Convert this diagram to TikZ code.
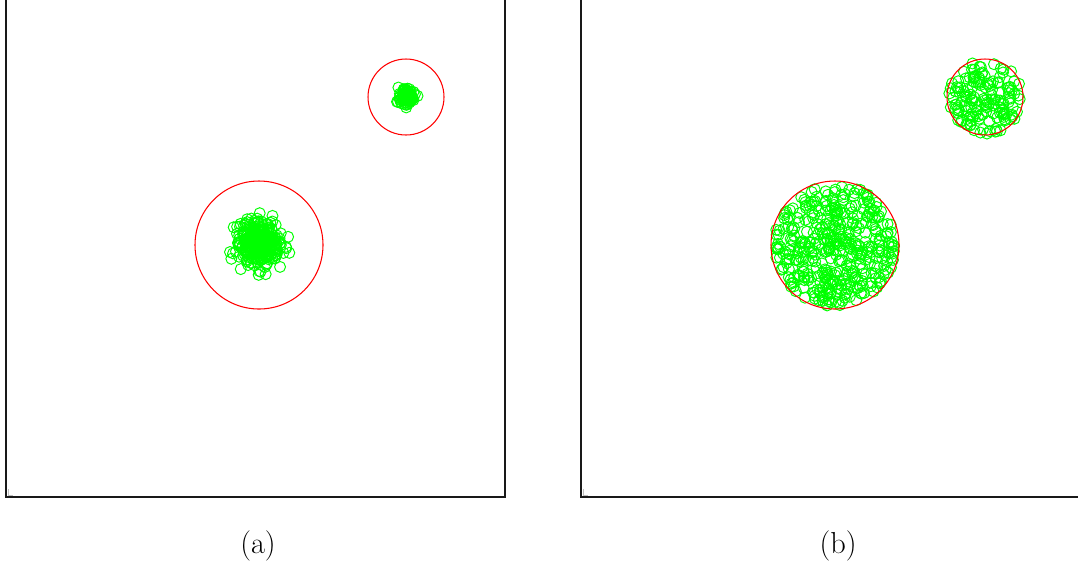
\documentclass[tikz,border=0pt]{standalone}
\definecolor{clusterGreen}{RGB}{0,255,0}
\definecolor{boundRed}{RGB}{255,0,0}
\tikzset{
  pt/.style={draw=clusterGreen, line width=0.55pt},
  bound/.style={draw=boundRed, line width=0.6pt},
  frame/.style={draw=black!90, line width=0.65pt},
}
\begin{document}
\begin{tikzpicture}[x=0.02cm,y=-0.02cm]
\useasboundingbox (0,0) rectangle (1078,566);

% Рамки
\draw[frame] (6,0) -- (6,497) -- (505,497) -- (505,0);
\draw[frame] (581,0) -- (581,497) -- (1078,497);
\draw[gray!50, line width=0.4pt] (8,489) -- (8,495) -- (13,495);
\draw[gray!50, line width=0.4pt] (583,489) -- (583,495) -- (588,495);

\pgfmathsetseed{685}
% Панель (a): плотные кластеры
\foreach \i in {1,...,320}{
    \pgfmathsetmacro\r{10.5*sqrt(-2*ln(max(rnd,0.01)))}
    \pgfmathsetmacro\a{360*rnd}
    \draw[pt] ({259+\r*cos(\a)},{243+\r*sin(\a)}) circle (5.5);
}
\foreach \i in {1,...,100}{
    \pgfmathsetmacro\r{4*sqrt(-2*ln(max(rnd,0.01)))}
    \pgfmathsetmacro\a{360*rnd}
    \draw[pt] ({406+\r*cos(\a)},{97+\r*sin(\a)}) circle (5.5);
}

% Границы (a)
\draw[bound] (259,245) circle (64);
\draw[bound] (406,97) circle (38);

\pgfmathsetseed{618}
% Панель (b): точки по всему кругу
\foreach \i in {1,...,420}{
    \pgfmathsetmacro\r{61*sqrt(rnd)}
    \pgfmathsetmacro\a{360*rnd}
    \draw[pt] ({835+\r*cos(\a)},{245+\r*sin(\a)}) circle (5.5);
}
\foreach \i in {1,...,150}{
    \pgfmathsetmacro\r{37*sqrt(rnd)}
    \pgfmathsetmacro\a{360*rnd}
    \draw[pt] ({985+\r*cos(\a)},{97+\r*sin(\a)}) circle (5.5);
}

% Границы (b)
\draw[bound] (835,245) circle (64);
\draw[bound] (985,97) circle (38);

% Подписи
\node[font=\LARGE] (labA) at (258,546) {(a)};
\node[font=\LARGE] (labB) at (838,546) {(b)};

\end{tikzpicture}
\end{document}
